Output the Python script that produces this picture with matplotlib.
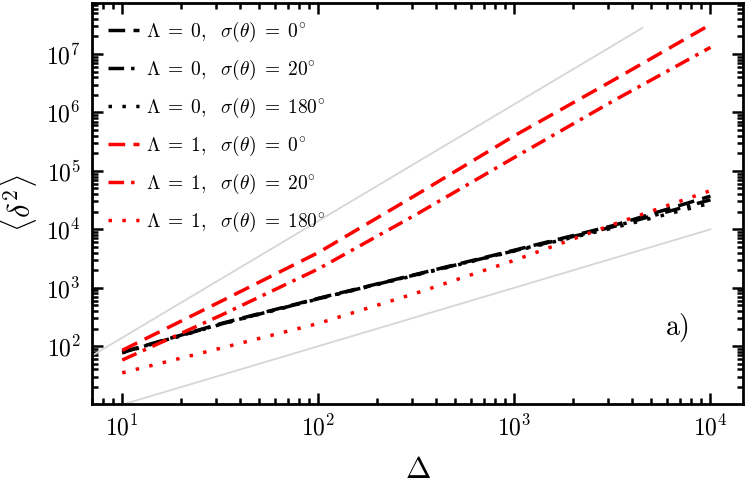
import numpy as np
import matplotlib
matplotlib.use("Agg")
import matplotlib.pyplot as plt
from matplotlib.ticker import LogLocator, NullFormatter

plt.rcParams['mathtext.fontset'] = 'cm'
plt.rcParams['font.family'] = 'serif'
plt.rcParams['font.serif'] = ['cmr10', 'DejaVu Serif']
plt.rcParams['axes.formatter.use_mathtext'] = True

# data
delta = [10, 32, 100, 316, 1000, 3162, 10000]

l0_s0 = [79, 245, 660, 1700, 4400, 11500, 37000]
l0_s20 = [78, 240, 650, 1680, 4300, 11000, 32000]
l0_s180 = [77, 238, 645, 1650, 4250, 10500, 28000]
l1_s0 = [85, 590, 4000, 39000, 4.0e5, 3.5e6, 3.2e7]
l1_s20 = [58, 340, 2100, 18000, 1.7e5, 1.55e6, 1.3e7]
l1_s180 = [35, 93, 245, 810, 2950, 12000, 46000]

labels = [r'$\Lambda\;=\;0,\ \ \sigma(\theta)\;=\;0^{\circ}$',
          r'$\Lambda\;=\;0,\ \ \sigma(\theta)\;=\;20^{\circ}$',
          r'$\Lambda\;=\;0,\ \ \sigma(\theta)\;=\;180^{\circ}$',
          r'$\Lambda\;=\;1,\ \ \sigma(\theta)\;=\;0^{\circ}$',
          r'$\Lambda\;=\;1,\ \ \sigma(\theta)\;=\;20^{\circ}$',
          r'$\Lambda\;=\;1,\ \ \sigma(\theta)\;=\;180^{\circ}$']

# guide lines (slope 2 and slope 1)
ref_hi_x = [5, 4500]
ref_hi_y = [35, 2.8e7]
ref_lo_x = [10, 10000]
ref_lo_y = [10, 10000]

dashed = (0, (4.8, 2.4))
dashdot = (0, (4.5, 2, 1, 2))
dotted = (0, (1, 3))

fig = plt.figure(figsize=(7.47, 4.86), dpi=100)
ax = fig.add_axes([0.123, 0.169, 0.872, 0.825])

ax.plot(ref_hi_x, ref_hi_y, color='#d6d6d6', lw=1.3)
ax.plot(ref_lo_x, ref_lo_y, color='#d6d6d6', lw=1.3)

lw = 2.5
ax.plot(delta, l0_s0, color='k', ls=dashed, lw=lw, label=labels[0])
ax.plot(delta, l0_s20, color='k', ls=dashdot, lw=lw, label=labels[1])
ax.plot(delta, l0_s180, color='k', ls=dotted, lw=lw, label=labels[2])
ax.plot(delta, l1_s0, color='red', ls=dashed, lw=lw, label=labels[3])
ax.plot(delta, l1_s20, color='red', ls=dashdot, lw=lw, label=labels[4])
ax.plot(delta, l1_s180, color='red', ls=dotted, lw=lw, label=labels[5])

ax.set_xscale('log')
ax.set_yscale('log')
ax.set_xlim(7.0, 14700)
ax.set_ylim(10.3, 7.5e7)

ax.xaxis.set_minor_locator(LogLocator(base=10, subs=np.arange(2, 10), numticks=20))
ax.yaxis.set_minor_locator(LogLocator(base=10, subs=np.arange(2, 10), numticks=20))
ax.xaxis.set_minor_formatter(NullFormatter())
ax.yaxis.set_minor_formatter(NullFormatter())
ax.set_yticks([1e2, 1e3, 1e4, 1e5, 1e6, 1e7])

ax.tick_params(which='both', direction='in', top=True, right=True, width=1.8)
ax.tick_params(which='major', length=8, labelsize=17, pad=8)
ax.tick_params(which='minor', length=4.5)
for s in ax.spines.values():
    s.set_linewidth(2)

ax.set_xlabel(r'$\Delta$', fontsize=22, labelpad=12)
ax.set_ylabel(r'$\langle\overline{\delta^2}\rangle$', fontsize=22)
ax.yaxis.set_label_coords(-0.08, 0.5)

ax.text(0.9, 0.19, 'a)', transform=ax.transAxes, fontsize=20,
        ha='center', va='center')

ax.legend(loc='upper left', frameon=False, fontsize=14, handlelength=1.55,
          handletextpad=0.4, labelspacing=0.72, borderaxespad=0.4,
          borderpad=0.45, bbox_to_anchor=(0.0, 1.0))

fig.savefig('out.png', dpi=100)
